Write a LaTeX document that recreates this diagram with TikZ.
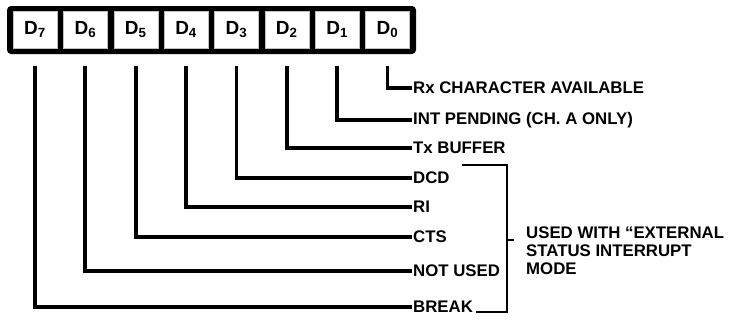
\documentclass[tikz,border=0pt]{standalone}
\usepackage{fontspec}
\setmainfont{Liberation Sans}
\begin{document}
\begin{tikzpicture}[x=1pt,y=-1pt,
    bit/.style={fill=white,draw=gray!50,line width=0.4pt,minimum width=44pt,minimum height=37pt,inner sep=0pt,font=\fontsize{19}{19}\selectfont\bfseries},
    lbl/.style={anchor=west,inner sep=1pt,font=\fontsize{16.8}{18}\selectfont\bfseries},
    wire/.style={line width=3.8pt}]
  \useasboundingbox (0,0) rectangle (729,322);
  % Register
  \fill[rounded corners=4pt] (7,6) rectangle (416,54);
  \foreach \i in {0,...,7}
    \node[bit] (b\i) at ({387.5-50.36*\i},29.5) {D\textsubscript{\i}};
  % Labels
  \foreach \i/\y/\t in {0/88/Rx CHARACTER AVAILABLE,1/120/INT PENDING (CH. A ONLY),2/148/Tx BUFFER,3/178/DCD,4/207/RI,5/237/CTS,6/271/NOT USED,7/307/BREAK}
    \node[lbl] (l\i) at (412,\y) {\t};
  % Lines
  \foreach \i in {0,...,7}
    \draw[wire] ([yshift=-18pt]b\i.south) |- (l\i.west);
  % Bracket
  \coordinate (top) at (462,165);
  \coordinate (bot) at (476,312);
  \coordinate (mid) at (507,240);
  \draw[line width=2.4pt] (top) -| (bot -| mid) -- (bot);
  \node[lbl,align=left] (note) at (525,251) {USED WITH “EXTERNAL\\STATUS INTERRUPT\\MODE};
  \draw[line width=2.4pt] (mid) -- ++(7,0);
\end{tikzpicture}
\end{document}
